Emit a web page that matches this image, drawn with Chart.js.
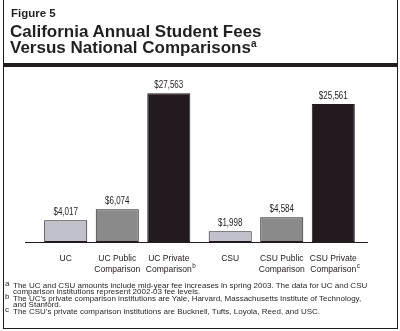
<!DOCTYPE html>
<html>
<head>
<meta charset="utf-8">
<script src="https://cdn.jsdelivr.net/npm/chart.js@4.4.1/dist/chart.umd.min.js"></script>
<style>
  html, body { margin: 0; padding: 0; background: #fff; }
  #wrap { position: relative; width: 400px; height: 331px; overflow: hidden; font-family: "Liberation Sans", Arial, sans-serif; color: #231f20; }
  #c { position: absolute; left: 0; top: 0; }
  .abs { position: absolute; white-space: nowrap; }
  #fig { left: 11px; top: 8px; font-size: 11.5px; line-height: 11px; font-weight: bold; }
  .ttl { left: 10px; font-size: 17px; line-height: 16px; font-weight: bold; }
  #t1 { top: 24px; }
  #t2 { top: 40px; }
  .ttl sup { font-size: 10px; vertical-align: 6px; line-height: 0; }
  #bar { left: 3px; width: 395px; top: 63px; height: 4px; background: #231a20; }
  #lft { left: 3px; top: 0; width: 1px; height: 329px; background: #231a20; }
  #rgt { left: 397px; top: 0; width: 1px; height: 329px; background: #231a20; }
  #bot { left: 3px; top: 328px; width: 395px; height: 1px; background: #231a20; }
  .fn { left: 13px; font-size: 8px; line-height: 8px; }
  .fm { left: 5px; font-size: 8px; line-height: 8px; }
</style>
</head>
<body>
<div id="wrap">
  <canvas id="c" width="400" height="331"></canvas>
  <div class="abs" id="lft"></div>
  <div class="abs" id="rgt"></div>
  <div class="abs" id="bot"></div>
  <div class="abs" id="bar"></div>
  <div class="abs" id="fig">Figure 5</div>
  <div class="abs ttl" id="t1">California Annual Student Fees</div>
  <div class="abs ttl" id="t2">Versus National Comparisons<sup>a</sup></div>
  <div class="abs fm" style="top:280px">a</div>
  <div class="abs fn" style="top:282px">The UC and CSU amounts include mid-year fee increases in spring 2003. The data for UC and CSU</div>
  <div class="abs fn" style="top:288px">comparison institutions represent 2002-03 fee levels.</div>
  <div class="abs fm" style="top:293px">b</div>
  <div class="abs fn" style="top:295px">The UC's private comparison institutions are Yale, Harvard, Massachusetts Institute of Technology,</div>
  <div class="abs fn" style="top:301px">and Stanford.</div>
  <div class="abs fm" style="top:306px">c</div>
  <div class="abs fn" style="top:308px">The CSU's private comparison institutions are Bucknell, Tufts, Loyola, Reed, and USC.</div>
</div>
<script>
// ---- data ----
const groups = ['UC', 'CSU'];
const seriesNames = ['System', 'Public Comparison', 'Private Comparison'];
const systemFees = [4017, 1998];
const publicFees = [6074, 4584];
const privateFees = [27563, 25561];
const systemLabels = [['UC'], ['CSU']];
const publicLabels = [['UC Public', 'Comparison'], ['CSU Public', 'Comparison']];
const privateLabels = [['UC Private', 'Comparison'], ['CSU Private', 'Comparison']];
const privateNotes = ['b', 'c'];

const ink = '#231a20';
const barLabelSets = [systemLabels, publicLabels, privateLabels];
const noteSets = [null, null, privateNotes];

function fmt(v) { return '$' + v.toLocaleString('en-US'); }

function drawScaled(ctx, text, x, y, size, sx, align) {
  ctx.save();
  ctx.font = size + 'px "Liberation Sans", Arial, sans-serif';
  const w = ctx.measureText(text).width * sx;
  ctx.translate(x, y);
  ctx.scale(sx, 1);
  ctx.textAlign = align || 'center';
  ctx.textBaseline = 'alphabetic';
  ctx.fillText(text, 0, 0);
  ctx.restore();
  return w;
}

const labelPlugin = {
  id: 'labels',
  afterDatasetsDraw(chart) {
    const ctx = chart.ctx;
    const area = chart.chartArea;
    const y0 = chart.scales.y.getPixelForValue(0);
    ctx.save();
    ctx.strokeStyle = ink;
    ctx.lineWidth = 1;
    ctx.beginPath();
    ctx.moveTo(area.left - 10, y0 + 0.5);
    ctx.lineTo(area.right + 4, y0 + 0.5);
    ctx.stroke();
    ctx.restore();
    ctx.fillStyle = ink;
    chart.data.datasets.forEach((ds, di) => {
      const meta = chart.getDatasetMeta(di);
      meta.data.forEach((el, i) => {
        drawScaled(ctx, fmt(ds.data[i]), el.x, el.y - 5, 10, 0.8);
        const lines = barLabelSets[di][i];
        lines.forEach((ln, k) => {
          const yy = y0 + 19 + k * 11;
          const w = drawScaled(ctx, ln, el.x, yy, 9.5, 0.9);
          const notes = noteSets[di];
          if (notes && k === lines.length - 1) {
            drawScaled(ctx, notes[i], el.x + w / 2 + 0.5, yy - 4, 7, 0.9, 'left');
          }
        });
      });
    });
  }
};

new Chart(document.getElementById('c'), {
  type: 'bar',
  data: {
    labels: groups,
    datasets: [
      { label: seriesNames[0], data: systemFees, backgroundColor: '#c1c1cb' },
      { label: seriesNames[1], data: publicFees, backgroundColor: '#8a8a8a' },
      { label: seriesNames[2], data: privateFees, backgroundColor: ink }
    ].map(d => Object.assign(d, { borderColor: ink, borderWidth: 1, borderSkipped: false }))
  },
  options: {
    responsive: false,
    animation: false,
    categoryPercentage: 0.94,
    barPercentage: 0.835,
    layout: { padding: { left: 35, right: 36, top: 80, bottom: 89 } },
    plugins: { legend: { display: false }, tooltip: { enabled: false }, title: { display: false } },
    scales: {
      x: { display: false },
      y: { display: false, min: 0, max: 30000 }
    }
  },
  plugins: [labelPlugin]
});
</script>
</body>
</html>
